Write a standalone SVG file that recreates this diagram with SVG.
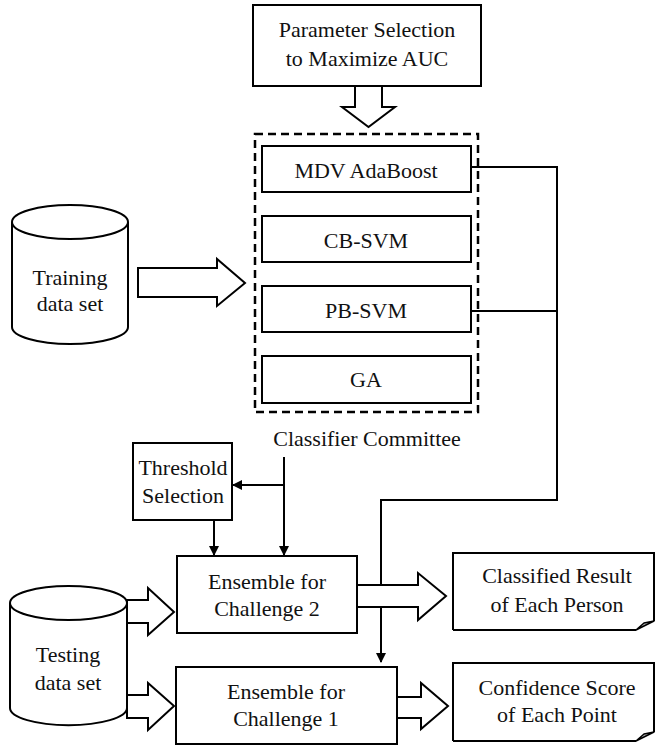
<svg xmlns="http://www.w3.org/2000/svg" width="655" height="747" viewBox="0 0 655 747">
  <defs>
    <style>
      .box { fill: #fff; stroke: #000; stroke-width: 2; }
      .hollow { fill: #fff; stroke: #000; stroke-width: 2; stroke-linejoin: miter; }
      .line { fill: none; stroke: #000; stroke-width: 2; }
      .dash { fill: none; stroke: #000; stroke-width: 2.5; stroke-dasharray: 8 5; }
      .curl { fill: #bbb; stroke: #000; stroke-width: 1.5; stroke-linejoin: round; }
      text { fill: #111; text-anchor: middle; }
    </style>
    <marker id="tri" markerWidth="10" markerHeight="10" refX="9" refY="5" orient="auto" markerUnits="userSpaceOnUse" viewBox="0 0 10 10">
      <path d="M0,0 L10,5 L0,10 Z" fill="#000"/>
    </marker>
  </defs>

  <g font-family="Liberation Serif, DejaVu Serif, serif" font-size="22">
  <!-- parameter selection -->
  <g id="param">
    <rect class="box" x="253" y="5" width="228" height="81"/>
    <text x="367" y="37">Parameter Selection</text>
    <text x="367" y="66">to Maximize AUC</text>
  </g>

  <!-- classifier committee -->
  <g id="committee">
    <rect class="dash" x="255" y="134" width="223" height="278"/>
    <text x="367" y="446">Classifier Committee</text>
  </g>
  <g id="mdv">
    <rect class="box" x="262" y="146" width="209" height="46"/>
    <text x="366" y="178">MDV AdaBoost</text>
  </g>
  <g id="cbsvm">
    <rect class="box" x="262" y="216" width="209" height="46"/>
    <text x="366" y="248">CB-SVM</text>
  </g>
  <g id="pbsvm">
    <rect class="box" x="262" y="286" width="209" height="46"/>
    <text x="366" y="318">PB-SVM</text>
  </g>
  <g id="ga">
    <rect class="box" x="262" y="356" width="209" height="47"/>
    <text x="366" y="387">GA</text>
  </g>

  <!-- training data -->
  <g id="training">
    <path class="box" d="M12,222 L12,327 A58,17 0 0 0 128,327 L128,222"/>
    <ellipse class="box" cx="70" cy="222" rx="58" ry="17"/>
    <text x="70" y="285">Training</text>
    <text x="70" y="311">data set</text>
  </g>

  <!-- testing data -->
  <g id="testing">
    <path class="box" d="M10,603 L10,708 A58,17 0 0 0 127,708 L127,603"/>
    <ellipse class="box" cx="68.5" cy="603" rx="58.5" ry="17"/>
    <text x="68" y="662">Testing</text>
    <text x="68" y="690">data set</text>
  </g>

  <!-- threshold selection -->
  <g id="threshold">
    <rect class="box" x="133" y="443" width="99" height="77"/>
    <text x="183" y="475">Threshold</text>
    <text x="183" y="503">Selection</text>
  </g>

  <!-- connectors -->
  <g id="connectors">
    <!-- committee outputs to the challenge 1 ensemble -->
    <polyline class="line" points="471,167 557,167 557,500 381,500 381,662" marker-end="url(#tri)"/>
    <line class="line" x1="471" y1="311" x2="557" y2="311"/>
    <!-- committee to threshold and challenge 2 -->
    <line class="line" x1="284" y1="457" x2="284" y2="555" marker-end="url(#tri)"/>
    <line class="line" x1="284" y1="485" x2="233" y2="485" marker-end="url(#tri)"/>
    <line class="line" x1="214" y1="520" x2="214" y2="555" marker-end="url(#tri)"/>

    <!-- block arrows -->
    <polygon class="hollow" points="355,86 382,86 382,107 395,107 368.5,127 342,107 355,107"/>
    <polygon class="hollow" points="138,268 217,268 217,259 245,283 217,306 217,297 138,297"/>
    <polygon class="hollow" points="127,600 148,600 148,588 174,612 148,635 148,623 127,623"/>
    <polygon class="hollow" points="127,695 148,695 148,683 174,706 148,730 148,718 127,718"/>
    <polygon class="hollow" points="357,585 418,585 418,573 446,596 418,620 418,607 357,607"/>
    <polygon class="hollow" points="397,697 421,697 421,683 448,706 421,729 421,718 397,718"/>
  </g>

  <!-- ensembles -->
  <g id="ensemble2">
    <rect class="box" x="177" y="556" width="180" height="77"/>
    <text x="267" y="589">Ensemble for</text>
    <text x="267" y="616">Challenge 2</text>
  </g>
  <g id="ensemble1">
    <rect class="box" x="176" y="667" width="221" height="77"/>
    <text x="286" y="699">Ensemble for</text>
    <text x="286" y="726">Challenge 1</text>
  </g>

  <!-- results -->
  <g id="classified">
    <path class="box" d="M453,630 L453,553 L654,553 L654,621"/>
    <path class="box" d="M453,630 L636,630"/>
    <path class="curl" d="M636,630 L644,623 L654,621 Z"/>
    <text x="557" y="583">Classified Result</text>
    <text x="557" y="612">of Each Person</text>
  </g>
  <g id="confidence">
    <path class="box" d="M453,741 L453,663 L654,663 L654,732"/>
    <path class="box" d="M453,741 L636,741"/>
    <path class="curl" d="M636,741 L644,734 L654,732 Z"/>
    <text x="557" y="695">Confidence Score</text>
    <text x="557" y="722">of Each Point</text>
  </g>
  </g>
</svg>
